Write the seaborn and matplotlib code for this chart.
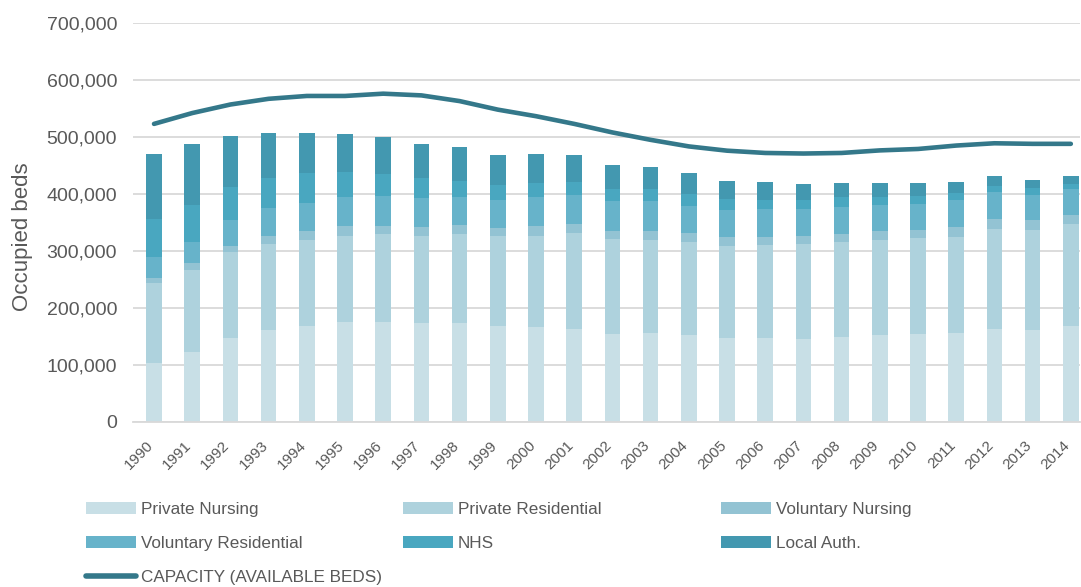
import numpy as np
import pandas as pd
import matplotlib
matplotlib.use("Agg")
import matplotlib.pyplot as plt
import matplotlib.transforms as mtransforms
from matplotlib.patches import Patch
from matplotlib.lines import Line2D
from matplotlib.ticker import FuncFormatter
import seaborn as sns

# ---------------- data ----------------
years = [str(y) for y in range(1990, 2015)]
private_nursing = [104000, 123000, 147000, 162000, 169000, 175000, 175000, 173500, 173500, 167600,
                   166000, 164000, 153600, 155400, 152000, 148000, 148000, 146000, 149500, 152000,
                   153600, 155400, 163600, 161800, 167600]
private_residential = [139000, 144000, 152000, 151000, 151000, 151000, 154000, 153600, 156500, 158300,
                       161000, 167000, 167700, 164700, 164000, 160600, 162000, 166000, 166500, 167600,
                       170000, 170000, 175800, 175800, 180000]
voluntary_nursing = [9300, 12000, 10000, 13000, 15000, 17000, 15000, 15800, 16400, 15200,
                     17500, 15700, 14000, 15800, 15000, 15800, 14600, 15000, 13400, 15800,
                     14000, 17500, 17000, 17000, 15800]
voluntary_residential = [37000, 37000, 46000, 50000, 50000, 52000, 53000, 50800, 49000, 48000,
                         51000, 52000, 52600, 52000, 48500, 48000, 48500, 47000, 48600, 46000,
                         45600, 46700, 46700, 44400, 45600]
nhs = [67000, 65000, 58000, 52000, 51000, 43000, 38500, 35000, 28000, 27000,
       23000, 23000, 20400, 21000, 20000, 19300, 15800, 15000, 16000, 14000,
       13400, 11700, 11000, 11000, 9300]
local_auth = [114000, 106000, 88000, 79000, 71000, 67000, 65000, 59600, 58400, 52600,
              51400, 46000, 42000, 38000, 37000, 31000, 31500, 29000, 25000, 24000,
              23400, 20400, 17600, 15200, 13500]
capacity = [523000, 542000, 557000, 567000, 572000, 572000, 576000, 573000, 563000, 548000,
            536500, 523000, 508000, 495000, 483500, 476000, 472000, 471000, 472000, 476500,
            479000, 485000, 489000, 488000, 488000]

series_names = ["Private Nursing", "Private Residential", "Voluntary Nursing",
                "Voluntary Residential", "NHS", "Local Auth."]
series_values = [private_nursing, private_residential, voluntary_nursing,
                 voluntary_residential, nhs, local_auth]
series_colors = ["#C8DFE6", "#AED2DD", "#93C3D3", "#67B3CA", "#49A7C0", "#4398B0"]
line_color = "#34788A"
line_label = "CAPACITY (AVAILABLE BEDS)"
text_color = "#595959"
grid_color = "#D9D9D9"

# ---------------- style ----------------
sns.set_style("white")
plt.rcParams["font.family"] = ["Liberation Sans", "DejaVu Sans"]

fig = plt.figure(figsize=(10.81, 5.87), dpi=100)
ax = fig.add_axes([133 / 1081, 1 - 422 / 587, (1080 - 133) / 1081, (422 - 23) / 587])

df = pd.DataFrame({"year": years})
cum = np.zeros(len(years))
cums = []
for vals in series_values:
    cum = cum + np.array(vals, dtype=float)
    cums.append(cum.copy())
df_cum = df.copy()
for name, c in zip(series_names, cums):
    df_cum[name] = c

# draw from the top of the stack downward so lower segments overlay
for name, color in reversed(list(zip(series_names, series_colors))):
    sns.barplot(data=df_cum, x="year", y=name, color=color, saturation=1,
                width=0.41, ax=ax, edgecolor="none", linewidth=0, zorder=2)

sns.lineplot(x=np.arange(len(years)), y=capacity, color=line_color, lw=3.3,
             ax=ax, legend=False, zorder=4, solid_capstyle="round", solid_joinstyle="round")

ax.set_xlim(-0.55, len(years) - 1 + 0.24)
ax.set_ylim(0, 700000)
ax.set_yticks(np.arange(0, 700001, 100000))
ax.yaxis.set_major_formatter(FuncFormatter(lambda v, p: f"{int(v):,}"))
ax.yaxis.grid(True, color=grid_color, lw=1.3)
ax.xaxis.grid(False)
ax.set_axisbelow(True)
for s in ["top", "right", "left"]:
    ax.spines[s].set_visible(False)
ax.spines["bottom"].set_color(grid_color)
ax.spines["bottom"].set_linewidth(1.3)

ax.tick_params(axis="y", length=0, pad=11.5, labelsize=14, labelcolor=text_color)
ax.tick_params(axis="x", length=0, pad=15, labelsize=11, labelcolor=text_color)
ax.set_xticks(np.arange(len(years)))
ax.set_xticklabels(years, rotation=45, ha="right", va="center", rotation_mode="anchor")
offset = mtransforms.ScaledTranslation(-3 / 100, 0, fig.dpi_scale_trans)
for lab in ax.get_xticklabels():
    lab.set_transform(lab.get_transform() + offset)

ax.set_xlabel("")
ax.set_ylabel("Occupied beds", fontsize=16, color=text_color)
ax.yaxis.set_label_coords(-0.106, 0.464)

# ---------------- legend (three columns) ----------------
patches = {n: Patch(facecolor=c, edgecolor="none") for n, c in zip(series_names, series_colors)}
cap_handle = Line2D([0], [0], color=line_color, lw=4, solid_capstyle="round")

columns = [
    ([patches["Private Nursing"], patches["Voluntary Residential"], cap_handle],
     ["Private Nursing", "Voluntary Residential", line_label], 86),
    ([patches["Private Residential"], patches["NHS"]],
     ["Private Residential", "NHS"], 403),
    ([patches["Voluntary Nursing"], patches["Local Auth."]],
     ["Voluntary Nursing", "Local Auth."], 721),
]
for handles, labels, xpix in columns:
    leg = fig.legend(handles, labels, loc="upper left",
                     bbox_to_anchor=(xpix / 1081, 1 - 502 / 587),
                     frameon=False, fontsize=12.3, handlelength=2.95, handleheight=0.65,
                     handletextpad=0.25, labelspacing=1.12, borderpad=0, borderaxespad=0)
    for t in leg.get_texts():
        t.set_color(text_color)

fig.savefig("out.png", dpi=100)
